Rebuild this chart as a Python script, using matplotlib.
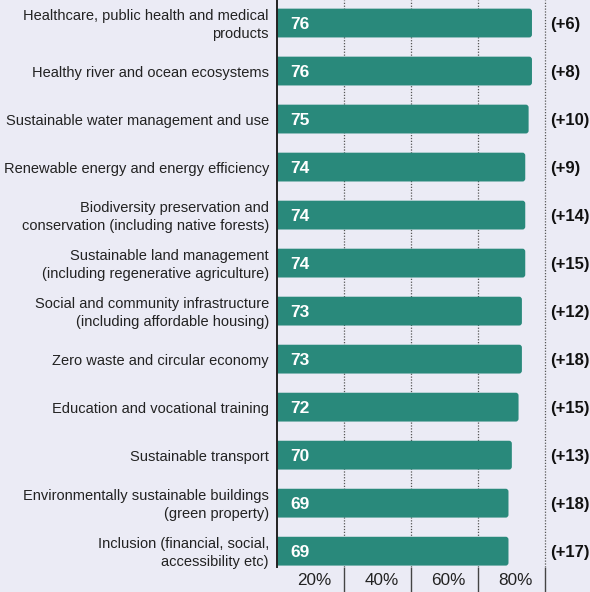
import matplotlib
matplotlib.use("Agg")
import matplotlib.pyplot as plt
from matplotlib.patches import FancyBboxPatch

categories = [
    "Healthcare, public health and medical\nproducts",
    "Healthy river and ocean ecosystems",
    "Sustainable water management and use",
    "Renewable energy and energy efficiency",
    "Biodiversity preservation and\nconservation (including native forests)",
    "Sustainable land management\n(including regenerative agriculture)",
    "Social and community infrastructure\n(including affordable housing)",
    "Zero waste and circular economy",
    "Education and vocational training",
    "Sustainable transport",
    "Environmentally sustainable buildings\n(green property)",
    "Inclusion (financial, social,\naccessibility etc)",
]
values = [76, 76, 75, 74, 74, 74, 73, 73, 72, 70, 69, 69]
changes = ["(+6)", "(+8)", "(+10)", "(+9)", "(+14)", "(+15)", "(+12)",
           "(+18)", "(+15)", "(+13)", "(+18)", "(+17)"]
ticks = [20, 40, 60, 80]
tick_labels = ["20%", "40%", "60%", "80%"]

bg = "#EBEBF5"
teal = "#29897B"
plt.rcParams['font.family'] = ['Liberation Sans', 'DejaVu Sans']

fig = plt.figure(figsize=(5.9, 5.92), dpi=100, facecolor=bg)
ax = fig.add_axes([0.4695, 0.0422, 0.5305, 0.9578], facecolor=bg)

ypos = list(range(len(values)))
ax.set_xlim(0, 93.3)
ax.set_ylim(11.33, -0.48)

for x in ticks:
    ax.axvline(x, color="#555555", lw=0.9, ls=(0, (1, 1.3)), zorder=1)

bars = ax.barh(ypos, values, height=0.6, color=teal, zorder=2)
# rounded right end
for b in bars:
    b.set_visible(False)
    p = FancyBboxPatch((b.get_x() - 2, b.get_y()), b.get_width() + 2, b.get_height(),
                       boxstyle="round,pad=0,rounding_size=0.8", mutation_aspect=0.075,
                       fc=teal, ec="none", zorder=2, clip_on=True)
    ax.add_patch(p)

for y, v, c, lab in zip(ypos, values, changes, categories):
    ax.text(4, y + 0.02, str(v), color="white", fontsize=12.5, fontweight="bold",
            va="center", ha="left", zorder=3)
    ax.text(81.3, y + 0.02, c, color="#111111", fontsize=12, fontweight="bold",
            va="center", ha="left")
    ax.text(-2.4, y + 0.04, lab, fontsize=10.5, color="#222222", va="center", ha="right",
            multialignment="right", linespacing=1.38, clip_on=False)

ax.set_yticks([])
ax.set_xticks(ticks)
ax.set_xticklabels([])
ax.tick_params(axis="x", direction="out", length=23, width=1.0, color="#444444")
for x, t in zip(ticks, tick_labels):
    ax.text(x - 3.8, 11.62, t, fontsize=12.3, color="#222222", ha="right", va="center",
            clip_on=False)

for s in ["top", "right", "bottom"]:
    ax.spines[s].set_visible(False)
ax.spines["left"].set_color("#222222")
ax.spines["left"].set_linewidth(1.4)

fig.savefig("out.png", dpi=100, facecolor=bg)
